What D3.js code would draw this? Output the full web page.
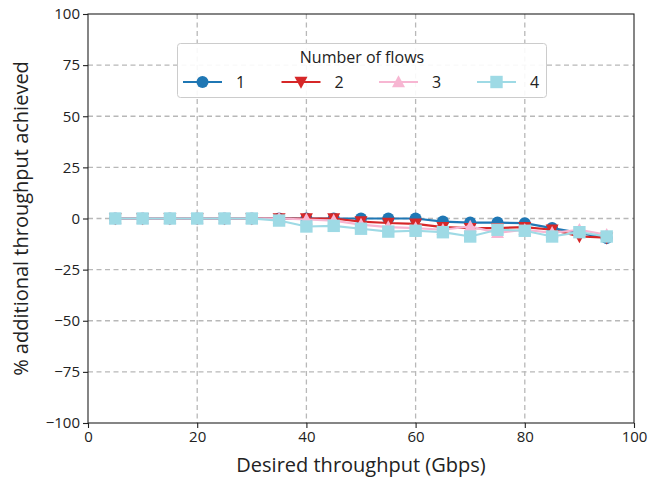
<!DOCTYPE html>
<html>
<head>
<meta charset="utf-8">
<script src="https://cdn.jsdelivr.net/npm/d3@7"></script>
<style>
  html, body { margin: 0; padding: 0; background: #fff; }
  svg { display: block; }
  text { font-family: "Open Sans", Lato, sans-serif; fill: #222; }
</style>
</head>
<body>
<svg id="chart" width="662" height="479"></svg>
<script>
// Desired throughput (Gbps) at each measurement point
const desired = [5, 10, 15, 20, 25, 30, 35, 40, 45, 50, 55, 60, 65, 70, 75, 80, 85, 90, 95];

// % additional throughput achieved, one array per number of flows
const flows1 = [0, 0, 0, 0, 0, 0, 0, 0, 0, 0, 0, 0, -1.5, -2, -2, -2.3, -4.7, -7, -9.6];
const flows2 = [0, 0, 0, 0, 0, 0, 0, 0, 0, -1.5, -2.2, -2.6, -4.2, -4.7, -4.7, -4.2, -5.5, -8.8, -9.4];
const flows3 = [0, 0, 0, 0, 0, 0, 0, -0.5, -1, -3, -4.2, -4.7, -5.5, -3.9, -7, -5.5, -7, -5.5, -8];
const flows4 = [0, 0, 0, 0, 0, 0, -1, -3.9, -3.6, -5, -6.4, -6, -6.7, -8.8, -5.5, -6, -8.8, -6.7, -8.8];

const seriesNames = ["1", "2", "3", "4"];
const seriesColors = ["#1f77b4", "#d62728", "#f7b6d2", "#9edae5"];
const seriesSymbols = ["circle", "triangleDown", "triangleUp", "square"];

const xTicks = [0, 20, 40, 60, 80, 100];
const yTicks = [-100, -75, -50, -25, 0, 25, 50, 75, 100];

const seriesValues = [flows1, flows2, flows3, flows4];

const margin = { left: 88, right: 28, top: 14, bottom: 56 };
const width = 662, height = 479;

const svg = d3.select("#chart");

const x = d3.scaleLinear().domain([0, 100]).range([margin.left, width - margin.right]);
const y = d3.scaleLinear().domain([-100, 100]).range([height - margin.bottom, margin.top]);

// Grid
const grid = svg.append("g");
grid.selectAll("line.gx").data(xTicks.slice(1, -1)).join("line")
  .attr("x1", d => x(d)).attr("x2", d => x(d))
  .attr("y1", y(100)).attr("y2", y(-100))
  .attr("stroke", "#b8b8b8").attr("stroke-width", 1.3).attr("stroke-dasharray", "5,3.5");
grid.selectAll("line.gy").data(yTicks.slice(1, -1)).join("line")
  .attr("y1", d => y(d)).attr("y2", d => y(d))
  .attr("x1", x(0)).attr("x2", x(100))
  .attr("stroke", "#b8b8b8").attr("stroke-width", 1.3).attr("stroke-dasharray", "5,3.5");

// Axes
const xAxis = svg.append("g")
  .attr("transform", `translate(0,${y(-100)})`)
  .call(d3.axisBottom(x).tickValues(xTicks).tickSize(5).tickPadding(3));
const yAxis = svg.append("g")
  .attr("transform", `translate(${x(0)},0)`)
  .call(d3.axisLeft(y).tickValues(yTicks).tickSize(5).tickPadding(3)
    .tickFormat(d => d < 0 ? "\u2212" + Math.abs(d) : d));
[xAxis, yAxis].forEach(a => {
  a.select(".domain").remove();
  a.selectAll(".tick line").attr("stroke", "#222").attr("stroke-width", 1.1);
  a.selectAll(".tick text").style("font-size", "15px").attr("fill", "#222");
});

// Frame
svg.append("rect")
  .attr("x", x(0)).attr("y", y(100))
  .attr("width", x(100) - x(0)).attr("height", y(-100) - y(100))
  .attr("fill", "none").attr("stroke", "#222").attr("stroke-width", 1.1);

// Axis titles
svg.append("text")
  .attr("x", (x(0) + x(100)) / 2).attr("y", 472)
  .attr("text-anchor", "middle").style("font-size", "20px")
  .text("Desired throughput (Gbps)");
svg.append("text")
  .attr("transform", `translate(28,${(y(100) + y(-100)) / 2}) rotate(-90)`)
  .attr("text-anchor", "middle").style("font-size", "20px")
  .text("% additional throughput achieved");

// Marker paths
function markerPath(kind) {
  const s = 6.2;
  switch (kind) {
    case "circle": return d3.symbol(d3.symbolCircle, Math.PI * 6 * 6)();
    case "square": return `M${-s},${-s}H${s}V${s}H${-s}Z`;
    case "triangleDown": return `M${-6.5},${-5.2}L${6.5},${-5.2}L0,${6.8}Z`;
    case "triangleUp": return `M${-6.5},${5.2}L${6.5},${5.2}L0,${-6.8}Z`;
  }
}

const line = d3.line().x((d, i) => x(desired[i])).y(d => y(d));

const plot = svg.append("g");
seriesValues.forEach((vals, k) => {
  const g = plot.append("g");
  g.append("path").datum(vals)
    .attr("d", line)
    .attr("fill", "none").attr("stroke", seriesColors[k]).attr("stroke-width", 2.2);
  g.selectAll("path.m").data(vals).join("path")
    .attr("class", "m")
    .attr("transform", (d, i) => `translate(${x(desired[i])},${y(d)})`)
    .attr("d", markerPath(seriesSymbols[k]))
    .attr("fill", seriesColors[k]);
});

// Legend
const lg = svg.append("g");
lg.append("rect")
  .attr("x", 177.5).attr("y", 43.5).attr("width", 369).attr("height", 54)
  .attr("rx", 3).attr("fill", "#fff").attr("fill-opacity", 0.9)
  .attr("stroke", "#cccccc").attr("stroke-width", 1);
lg.append("text")
  .attr("x", 362).attr("y", 63)
  .attr("text-anchor", "middle").style("font-size", "16px")
  .text("Number of flows");
const legendX = [183, 281.5, 379, 477];
seriesNames.forEach((name, k) => {
  const lx = legendX[k], ly = 82;
  lg.append("line")
    .attr("x1", lx).attr("x2", lx + 39).attr("y1", ly).attr("y2", ly)
    .attr("stroke", seriesColors[k]).attr("stroke-width", 2.2);
  lg.append("path")
    .attr("transform", `translate(${lx + 19.5},${ly})`)
    .attr("d", markerPath(seriesSymbols[k]))
    .attr("fill", seriesColors[k]);
  lg.append("text")
    .attr("x", lx + 53).attr("y", ly + 6)
    .style("font-size", "16px")
    .text(name);
});
</script>
</body>
</html>
